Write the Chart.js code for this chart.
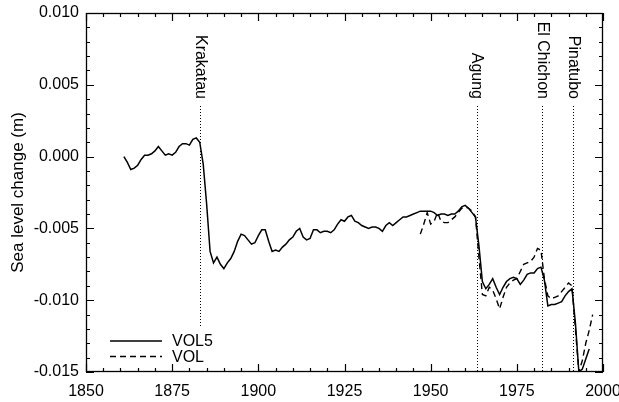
<!DOCTYPE html>
<html>
<head>
<meta charset="utf-8">
<script src="https://cdn.jsdelivr.net/npm/chart.js@4.4.1/dist/chart.umd.min.js"></script>
<style>
  html, body { margin: 0; padding: 0; background: #fff; }
  canvas { display: block; }
</style>
</head>
<body>
<canvas id="c" width="619" height="402"></canvas>
<script>
// ---- data ----
const vol5Years = [
  1861,1862,1863,1864,1865,1866,1867,1868,1869,1870,
  1871,1872,1873,1874,1875,1876,1877,1878,1879,1880,
  1881,1882,1883,1884,1885,1886,1887,1888,1889,1890,
  1891,1892,1893,1894,1895,1896,1897,1898,1899,1900,
  1901,1902,1903,1904,1905,1906,1907,1908,1909,1910,
  1911,1912,1913,1914,1915,1916,1917,1918,1919,1920,
  1921,1922,1923,1924,1925,1926,1927,1928,1929,1930,
  1931,1932,1933,1934,1935,1936,1937,1938,1939,1940,
  1941,1942,1943,1944,1945,1946,1947,1948,1949,1950,
  1951,1952,1953,1954,1955,1956,1957,1958,1959,1960,
  1961,1962,1963,1964,1965,1966,1967,1968,1969,1970,
  1971,1972,1973,1974,1975,1976,1977,1978,1979,1980,
  1981,1982,1983,1984,1985,1986,1987,1988,1989,1990,
  1991,1992,1993,1994,1995,1996
];
const vol5Values = [
  0.0000,-0.0004,-0.0009,-0.0008,-0.0006,-0.0002, 0.0001, 0.0001, 0.0002, 0.0004,
  0.0007, 0.0004, 0.0001, 0.0002, 0.0001, 0.0003, 0.0007, 0.0009, 0.0009, 0.0008,
  0.0012, 0.0013, 0.0010,-0.0005,-0.0033,-0.0066,-0.0074,-0.0070,-0.0075,-0.0078,
 -0.0074,-0.0071,-0.0066,-0.0059,-0.0054,-0.0055,-0.0058,-0.0061,-0.0060,-0.0055,
 -0.0051,-0.0051,-0.0059,-0.0066,-0.0065,-0.0066,-0.0063,-0.0061,-0.0058,-0.0056,
 -0.0052,-0.0050,-0.0056,-0.0058,-0.0057,-0.0051,-0.0051,-0.0053,-0.0052,-0.0052,
 -0.0053,-0.0051,-0.0047,-0.0044,-0.0045,-0.0042,-0.0041,-0.0045,-0.0046,-0.0048,
 -0.0049,-0.0050,-0.0049,-0.0049,-0.0050,-0.0052,-0.0048,-0.0046,-0.0048,-0.0046,
 -0.0044,-0.0042,-0.0042,-0.0041,-0.0040,-0.0039,-0.0038,-0.0038,-0.0038,-0.0038,
 -0.0039,-0.0041,-0.0040,-0.0040,-0.0041,-0.0040,-0.0040,-0.0038,-0.0035,-0.0034,
 -0.0036,-0.0039,-0.0042,-0.0062,-0.0087,-0.0092,-0.0089,-0.0085,-0.0091,-0.0096,
 -0.0091,-0.0087,-0.0085,-0.0084,-0.0085,-0.0089,-0.0086,-0.0082,-0.0081,-0.0081,
 -0.0078,-0.0077,-0.0086,-0.0104,-0.0103,-0.0103,-0.0102,-0.0101,-0.0097,-0.0094,
 -0.0092,-0.0116,-0.0150,-0.0148,-0.0141,-0.0134
];
const volYears = [
  1947,1948,1949,1950,1951,1952,1953,1954,1955,1956,
  1957,1958,1959,1960,1961,1962,1963,1964,1965,1966,
  1967,1968,1969,1970,1971,1972,1973,1974,1975,1976,
  1977,1978,1979,1980,1981,1982,1983,1984,1985,1986,
  1987,1988,1989,1990,1991,1992,1993,1994,1995,1996,
  1997
];
const volValues = [
 -0.0054,-0.0047,-0.0039,-0.0047,-0.0045,-0.0039,-0.0045,-0.0046,-0.0046,-0.0044,
 -0.0042,-0.0039,-0.0036,-0.0035,-0.0036,-0.0038,-0.0042,-0.0070,-0.0096,-0.0097,
 -0.0091,-0.0093,-0.0099,-0.0106,-0.0098,-0.0091,-0.0088,-0.0086,-0.0085,-0.0080,
 -0.0075,-0.0074,-0.0073,-0.0070,-0.0064,-0.0065,-0.0085,-0.0097,-0.0099,-0.0098,
 -0.0097,-0.0094,-0.0091,-0.0088,-0.0090,-0.0120,-0.0150,-0.0142,-0.0130,-0.0121,
 -0.0110
];
const seriesNames = ['VOL5', 'VOL'];
const volcanoNames = ['Krakatau', 'Agung', 'El Chichon', 'Pinatubo'];
const volcanoYears = [1883.1, 1963.3, 1982.4, 1991.4];
const xTickValues = [1850, 1875, 1900, 1925, 1950, 1975, 2000];
const yTickValues = [-0.015, -0.010, -0.005, 0.000, 0.005, 0.010];
const xMinorStep = 5;
const yMinorStep = 0.001;

// ---- chart ----
const FONT = "'Liberation Sans', Arial, Helvetica, sans-serif";
Chart.defaults.font.family = FONT;

const toPts = (xs, ys) => xs.map((x, i) => ({ x: x, y: ys[i] }));

const MAJOR_LEN = 8, MINOR_LEN = 4;
const LABEL_END_Y = 99, LINE_TOP_Y = 106;
const LINE_END_VALUES = [-0.0119, null, null, null];
const LEG = { x0: 110, x1: 162, tx: 172, ys: [341, 356.5] };

const framePlugin = {
  id: 'framePlugin',
  afterDraw(chart) {
    const ctx = chart.ctx;
    const a = chart.chartArea;
    const xs = chart.scales.x, ys = chart.scales.y;
    ctx.save();
    ctx.strokeStyle = '#000';
    ctx.fillStyle = '#000';
    ctx.setLineDash([]);

    // inward ticks, all four sides
    ctx.lineWidth = 1.2;
    ctx.beginPath();
    const nX = Math.round((xs.max - xs.min) / xMinorStep);
    const perX = Math.round((xTickValues[1] - xTickValues[0]) / xMinorStep);
    for (let k = 0; k <= nX; k++) {
      const v = xs.min + k * xMinorStep;
      const len = (k % perX === 0) ? MAJOR_LEN : MINOR_LEN;
      const px = Math.round(xs.getPixelForValue(v)) + 0.5;
      ctx.moveTo(px, a.bottom); ctx.lineTo(px, a.bottom - len);
      ctx.moveTo(px, a.top); ctx.lineTo(px, a.top + len);
    }
    const nY = Math.round((ys.max - ys.min) / yMinorStep);
    const perY = Math.round((yTickValues[1] - yTickValues[0]) / yMinorStep);
    for (let k = 0; k <= nY; k++) {
      const v = ys.min + k * yMinorStep;
      const len = (k % perY === 0) ? MAJOR_LEN : MINOR_LEN;
      const py = Math.round(ys.getPixelForValue(v)) + 0.5;
      ctx.moveTo(a.left, py); ctx.lineTo(a.left + len, py);
      ctx.moveTo(a.right, py); ctx.lineTo(a.right - len, py);
    }
    ctx.stroke();

    // frame
    ctx.lineWidth = 1.3;
    ctx.strokeRect(a.left + 0.5, a.top + 0.5, a.right - a.left - 1, a.bottom - a.top - 1);

    // volcano marker lines
    ctx.lineWidth = 1;
    ctx.setLineDash([1, 2]);
    for (let i = 0; i < volcanoYears.length; i++) {
      const px = Math.round(xs.getPixelForValue(volcanoYears[i])) + 0.5;
      const ev = LINE_END_VALUES[i];
      const bottom = (ev === null) ? a.bottom : ys.getPixelForValue(ev);
      ctx.beginPath();
      ctx.moveTo(px, LINE_TOP_Y);
      ctx.lineTo(px, bottom);
      ctx.stroke();
    }
    ctx.setLineDash([]);

    // volcano labels (rotated, reading downward)
    ctx.font = '16px ' + FONT;
    ctx.textAlign = 'right';
    ctx.textBaseline = 'middle';
    for (let i = 0; i < volcanoNames.length; i++) {
      const px = xs.getPixelForValue(volcanoYears[i]);
      ctx.save();
      ctx.translate(px, LABEL_END_Y);
      ctx.rotate(Math.PI / 2);
      ctx.fillText(volcanoNames[i], 0, 0);
      ctx.restore();
    }

    // legend
    ctx.textAlign = 'left';
    chart.data.datasets.forEach((ds, i) => {
      const ly = LEG.ys[i];
      ctx.lineWidth = ds.borderWidth;
      ctx.setLineDash(ds.borderDash || []);
      ctx.beginPath();
      ctx.moveTo(LEG.x0, ly);
      ctx.lineTo(LEG.x1, ly);
      ctx.stroke();
      ctx.setLineDash([]);
      ctx.fillText(ds.label, LEG.tx, ly + 1);
    });
    ctx.restore();
  }
};

new Chart(document.getElementById('c'), {
  type: 'line',
  data: {
    datasets: [
      {
        label: seriesNames[0],
        data: toPts(vol5Years, vol5Values),
        borderColor: '#000',
        borderWidth: 1.5,
        pointRadius: 0,
        tension: 0,
        fill: false
      },
      {
        label: seriesNames[1],
        data: toPts(volYears, volValues),
        borderColor: '#000',
        borderWidth: 1.4,
        borderDash: [6, 4],
        pointRadius: 0,
        tension: 0,
        fill: false
      }
    ]
  },
  options: {
    responsive: false,
    animation: false,
    devicePixelRatio: 1,
    layout: { padding: { left: 0, right: 16, top: 13, bottom: 0 } },
    plugins: {
      legend: { display: false },
      tooltip: { enabled: false }
    },
    scales: {
      x: {
        type: 'linear',
        min: 1850, max: 2000,
        grid: { display: false, drawTicks: false },
        border: { display: false },
        afterBuildTicks: (s) => { s.ticks = xTickValues.map(v => ({ value: v })); },
        ticks: {
          font: { size: 16 },
          color: '#000',
          padding: 10,
          maxRotation: 0,
          autoSkip: false,
          callback: (v) => String(v)
        },
        afterFit: (s) => { s.height = 30; s.paddingLeft = 0; s.paddingRight = 0; }
      },
      y: {
        type: 'linear',
        min: -0.015, max: 0.010,
        grid: { display: false, drawTicks: false },
        border: { display: false },
        afterBuildTicks: (s) => { s.ticks = yTickValues.map(v => ({ value: v })); },
        ticks: {
          font: { size: 16 },
          color: '#000',
          padding: 7,
          autoSkip: false,
          callback: (v) => (Math.abs(v) < 1e-9 ? 0 : v).toFixed(3)
        },
        title: {
          display: true,
          text: 'Sea level change (m)',
          font: { size: 17 },
          color: '#000',
          padding: { top: 8, bottom: 0 }
        },
        afterFit: (s) => { s.width = 86; s.paddingTop = 0; s.paddingBottom = 0; }
      }
    }
  },
  plugins: [framePlugin]
});
</script>
</body>
</html>
